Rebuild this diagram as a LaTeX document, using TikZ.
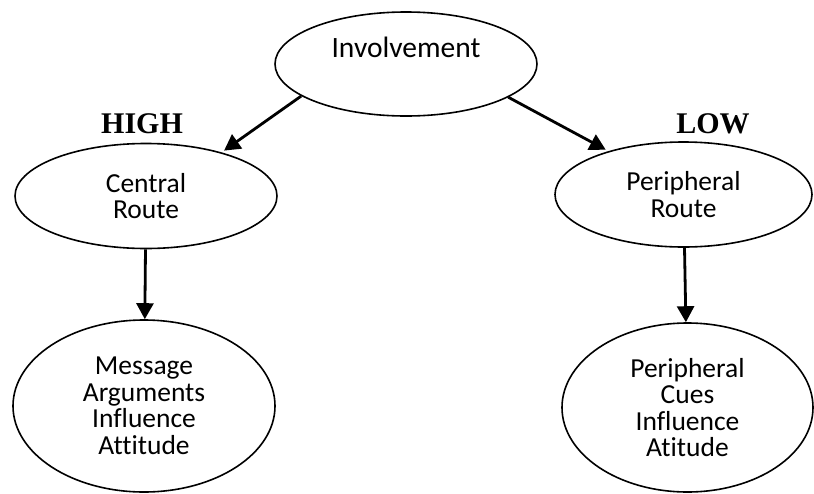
\documentclass[tikz,border=0pt]{standalone}
\usepackage{fontspec}
\setmainfont{Carlito}[Ligatures=NoCommon]
\newfontfamily\headfont{Liberation Serif}
\usetikzlibrary{shapes.geometric,arrows.meta}
\tikzstyle{blob}=[draw,ellipse,line width=1.6pt,inner sep=0pt,align=center,font=\fontsize{27.5}{26.5}\selectfont]
\tikzstyle{route}=[blob,minimum width=262pt,minimum height=105pt]

\begin{document}
\begin{tikzpicture}[
  x=1pt,y=-1pt,
  link/.style={-{Triangle[length=16pt,width=17pt]},line width=2.8pt},
  head/.style={font=\headfont\bfseries\fontsize{30}{30}\selectfont,anchor=base},
]
  \useasboundingbox (0,0) rectangle (814,493);
  % top
  \node[blob,minimum width=262pt,minimum height=104pt] (inv) at (406,64) {};
  \node[font=\fontsize{29.5}{30}\selectfont,anchor=base] (invtxt) at (406,57) {Involvement};
  % routes
  \node[route] (central) at (146,196) {Central\\Route};
  \node[route,minimum width=257pt] (periph) at (683.5,194.5) {Peripheral\\Route};
  \node[head] (high) at (142,133) {HIGH};
  \node[head] (low) at (713,133) {LOW};
  % outcomes
  \node[blob,minimum width=262pt,minimum height=172pt] (msg) at (144,406) {Message\\Arguments\\Influence\\Attitude};
  \node[blob,minimum width=251pt,minimum height=169pt] (cues) at (687.5,407.5) {Peripheral\\Cues\\Influence\\Atitude};

  \draw[link,shorten >=3pt] (inv.197) -- (central.30);
  \draw[link,shorten >=3pt] (inv.342) -- (periph.150);
  \draw[link] (central) -- (msg);
  \draw[link] (periph) -- (cues);
\end{tikzpicture}
\end{document}
